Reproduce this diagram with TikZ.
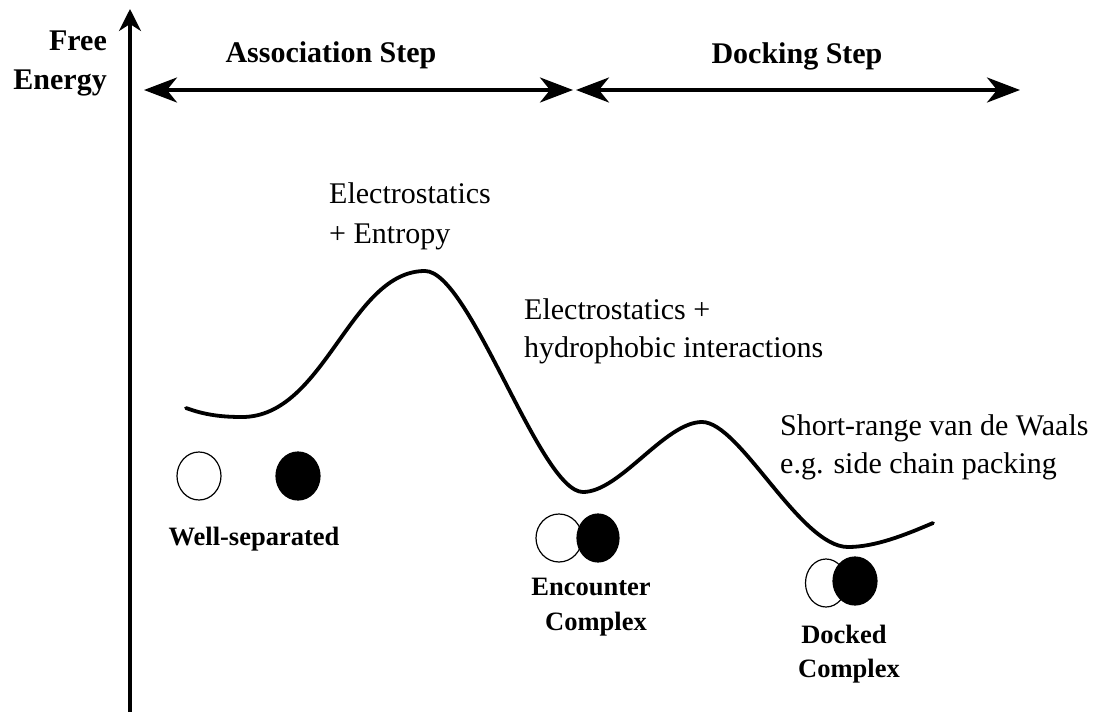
\documentclass[tikz,border=0pt]{standalone}
\usepackage{fontspec}
\setmainfont{Liberation Serif}
\usetikzlibrary{arrows.meta,shapes.geometric}
\begin{document}
\begin{tikzpicture}[x=1pt,y=-1pt,
  lbl/.style={inner sep=0pt,font=\fontsize{30}{36}\selectfont},
  blbl/.style={inner sep=0pt,font=\fontsize{30}{36}\selectfont\bfseries},
  slbl/.style={inner sep=0pt,font=\fontsize{26.5}{32}\selectfont\bfseries},
  mol/.style={ellipse,draw=black,line width=1.2pt,minimum width=44pt,minimum height=48pt,inner sep=0pt},
  openmol/.style={mol,fill=white},
  fullmol/.style={mol,fill=black},
  dbl/.style={line width=3.6pt,{Stealth[length=33pt,width=25pt,inset=10pt]}-{Stealth[length=33pt,width=25pt,inset=10pt]}},
]
\useasboundingbox (0,0) rectangle (1103,712);
% axis
\coordinate (ybot) at (130,712);
\coordinate (ytop) at (130,9);
\draw[line width=3.4pt,-{Stealth[length=22pt,width=22pt,inset=7pt]}] (ybot) -- (ytop);
\node[blbl,anchor=base east] (free) at (107,50) {Free};
\node[blbl,anchor=base east] (energy) at (107,89) {Energy};
% step arrows
\coordinate (a1) at (144,90);
\coordinate (a2) at (573,90);
\coordinate (d1) at (576,90);
\coordinate (d2) at (1020,90);
\draw[dbl] (a1) -- (a2);
\draw[dbl] (d1) -- (d2);
\node[blbl,anchor=base] (assoc) at (331,62) {Association Step};
\node[blbl,anchor=base] (dock) at (797,63) {Docking Step};
% energy curve
\coordinate (p0) at (186,408);
\coordinate (p1) at (242,417);
\coordinate (p2) at (425,271);
\coordinate (p3) at (583,492);
\coordinate (p4) at (702,422);
\coordinate (p5) at (848,547);
\coordinate (p6) at (933,523);
\draw[line width=3.8pt,line cap=round]
 (p0) .. controls (205,415) and (222,417) .. (p1)
      .. controls (325,417) and (350,271) .. (p2)
      .. controls (470,271) and (540,492) .. (p3)
      .. controls (620,492) and (665,422) .. (p4)
      .. controls (740,422) and (800,547) .. (p5)
      .. controls (875,547) and (905,535) .. (p6);
% annotations
\node[lbl,anchor=base west] (e1) at (329,203) {Electrostatics};
\node[lbl,anchor=base west] (e2) at (329,243) {+ Entropy};
\node[lbl,anchor=base west] (h1) at (524,319) {Electrostatics +};
\node[lbl,anchor=base west] (h2) at (524,357) {hydrophobic interactions};
\node[lbl,anchor=base west] (s1) at (780,435) {Short-range van de Waals};
\node[lbl,anchor=base west] (s2) at (780,473) {e.g. side chain packing};
% molecules
\node[openmol] (w1) at (199,476) {};
\node[fullmol] (w2) at (298,476) {};
\node[slbl,anchor=base] (wl) at (254,545) {Well-separated};
\node[openmol,minimum width=46pt] (c1) at (559,538) {};
\node[fullmol,minimum width=42pt] (c2) at (598,538) {};
\node[slbl,anchor=base] (cl1) at (591,595) {Encounter};
\node[slbl,anchor=base] (cl2) at (596,630) {Complex};
\node[openmol,minimum width=41pt] (k1) at (826,583) {};
\node[fullmol] (k2) at (855,581) {};
\node[slbl,anchor=base] (kl1) at (844,643) {Docked};
\node[slbl,anchor=base] (kl2) at (849,677) {Complex};
\end{tikzpicture}
\end{document}
